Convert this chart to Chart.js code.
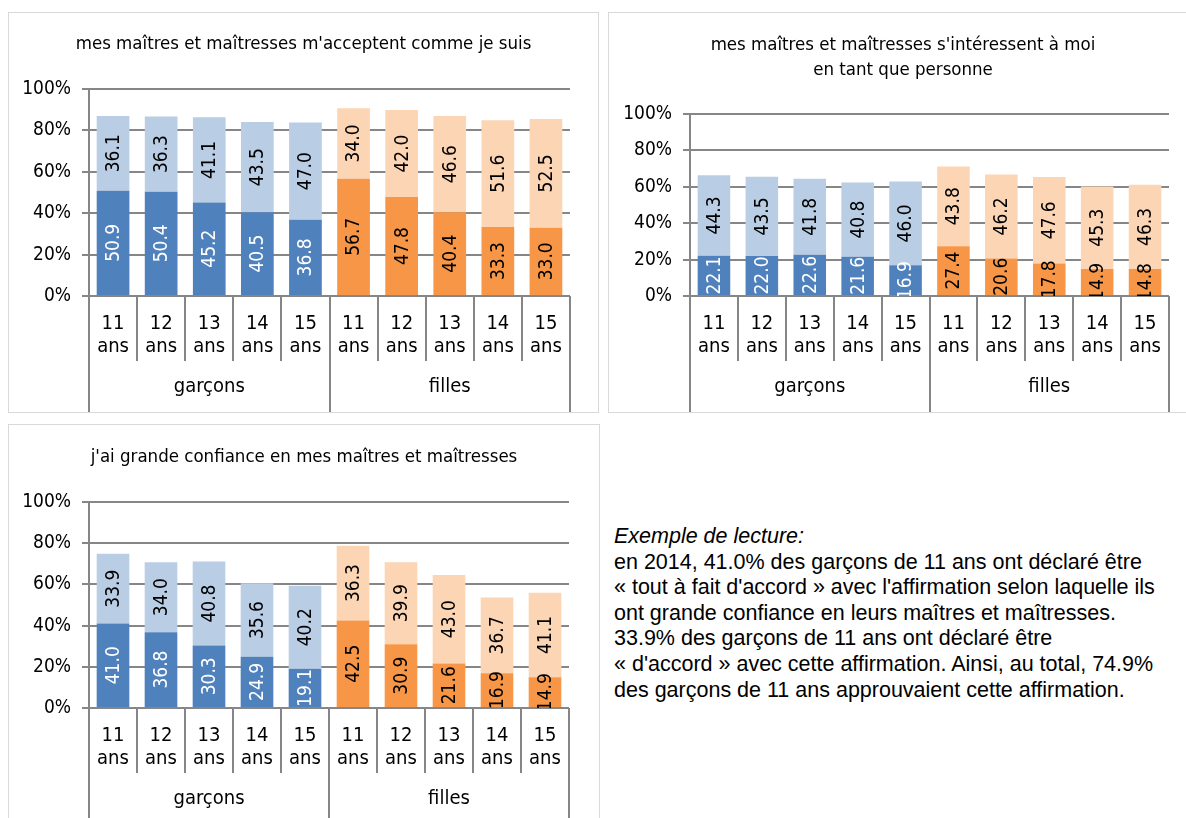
<!DOCTYPE html>
<html><head><meta charset="utf-8">
<script src="https://cdn.jsdelivr.net/npm/chart.js@4.4.1/dist/chart.umd.min.js"></script>
<style>
body{margin:0;background:#fff;width:1186px;height:818px;overflow:hidden;position:relative}
.panel{position:absolute;border:1px solid #d9d9d9;box-sizing:border-box;background:#fff;overflow:hidden}
canvas{display:block}
#note{position:absolute;left:614px;top:524px;font-family:'Liberation Sans',Arial,sans-serif;font-size:21.5px;line-height:25.6px;color:#000;white-space:nowrap}
</style></head><body>
<div class="panel" style="left:8px;top:12px;width:591px;height:401px"><canvas id="c1" width="589" height="399"></canvas></div>
<div class="panel" style="left:608px;top:12px;width:600px;height:401px"><canvas id="c2" width="588" height="399"></canvas></div>
<div class="panel" style="left:8px;top:424px;width:592px;height:410px"><canvas id="c3" width="590" height="393"></canvas></div>
<div id="note"><i>Exemple de lecture:</i><br>en 2014, 41.0% des garçons de 11 ans ont déclaré être<br>« tout à fait d'accord » avec l'affirmation selon laquelle ils<br>ont grande confiance en leurs maîtres et maîtresses.<br>33.9% des garçons de 11 ans ont déclaré être<br>« d'accord » avec cette affirmation. Ainsi, au total, 74.9%<br>des garçons de 11 ans approuvaient cette affirmation.</div>
<script>
// ---- data ----
const ages = ["11", "12", "13", "14", "15"];
const groups = ["garçons", "filles"];
const yTicks = [0, 20, 40, 60, 80, 100];

const title1 = "mes maîtres et maîtresses m'acceptent comme je suis";
const boysFull1 = [50.9, 50.4, 45.2, 40.5, 36.8];
const boysAgree1 = [36.1, 36.3, 41.1, 43.5, 47.0];
const girlsFull1 = [56.7, 47.8, 40.4, 33.3, 33.0];
const girlsAgree1 = [34.0, 42.0, 46.6, 51.6, 52.5];

const title2 = ["mes maîtres et maîtresses s'intéressent à moi", "en tant que personne"];
const boysFull2 = [22.1, 22.0, 22.6, 21.6, 16.9];
const boysAgree2 = [44.3, 43.5, 41.8, 40.8, 46.0];
const girlsFull2 = [27.4, 20.6, 17.8, 14.9, 14.8];
const girlsAgree2 = [43.8, 46.2, 47.6, 45.3, 46.3];

const title3 = "j'ai grande confiance en mes maîtres et maîtresses";
const boysFull3 = [41.0, 36.8, 30.3, 24.9, 19.1];
const boysAgree3 = [33.9, 34.0, 40.8, 35.6, 40.2];
const girlsFull3 = [42.5, 30.9, 21.6, 16.9, 14.9];
const girlsAgree3 = [36.3, 39.9, 43.0, 36.7, 41.1];

// ---- styles ----
const FONT = "'Liberation Sans Narrow','Arial Narrow','DejaVu Sans Condensed',sans-serif";
const GRID = '#868686';
const C_BLUE = '#4F81BD', C_LBLUE = '#B9CDE5', C_ORANGE = '#F79646', C_LORANGE = '#FCD5B5';
Chart.defaults.font.family = FONT;
Chart.defaults.color = '#000';

const labels = groups.flatMap(g => ages.map(a => g + ' ' + a));

const xAxisPlugin = {
  id: 'xaxis',
  afterDraw(chart) {
    const ctx = chart.ctx, ca = chart.chartArea, xs = chart.scales.x;
    const n = chart.data.labels.length, w = (ca.right - ca.left) / n;
    ctx.save();
    ctx.strokeStyle = GRID; ctx.lineWidth = 2;
    for (let k = 0; k <= n; k++) {
      const x = Math.round(ca.left + k * w);
      const isGroup = (k % ages.length === 0);
      ctx.beginPath();
      ctx.moveTo(x, ca.bottom);
      ctx.lineTo(x, isGroup ? chart.height : ca.bottom + 65);
      ctx.stroke();
    }
    ctx.fillStyle = '#000';
    ctx.textAlign = 'center'; ctx.textBaseline = 'middle';
    ctx.font = '20px ' + FONT;
    for (let i = 0; i < n; i++) {
      const x = xs.getPixelForValue(i);
      ctx.fillText(ages[i % ages.length], x, ca.bottom + 28);
      ctx.fillText('ans', x, ca.bottom + 51);
    }
    groups.forEach((g, gi) => {
      const x = (xs.getPixelForValue(gi * ages.length) + xs.getPixelForValue(gi * ages.length + ages.length - 1)) / 2;
      ctx.fillText(g, x, ca.bottom + 91);
    });
    ctx.restore();
  },
  afterDatasetsDraw(chart) {
    const ctx = chart.ctx, ca = chart.chartArea;
    ctx.save();
    ctx.beginPath(); ctx.rect(ca.left, ca.top, ca.right - ca.left, ca.bottom - ca.top); ctx.clip();
    ctx.font = '19px ' + FONT;
    ctx.textAlign = 'center'; ctx.textBaseline = 'middle';
    chart.data.datasets.forEach((ds, di) => {
      const meta = chart.getDatasetMeta(di);
      meta.data.forEach((bar, i) => {
        const v = ds.data[i];
        const cy = (bar.y + bar.base) / 2;
        ctx.fillStyle = (di === 0 && i < ages.length) ? '#fff' : '#000';
        ctx.save();
        ctx.translate(bar.x, cy);
        ctx.rotate(-Math.PI / 2);
        ctx.fillText(v.toFixed(1), 0, 1);
        ctx.restore();
      });
    });
    ctx.restore();
  }
};

function makeChart(id, title, full, agree, cfg) {
  const colorsFull = ages.map(() => C_BLUE).concat(ages.map(() => C_ORANGE));
  const colorsAgree = ages.map(() => C_LBLUE).concat(ages.map(() => C_LORANGE));
  new Chart(document.getElementById(id), {
    type: 'bar',
    data: {
      labels: labels,
      datasets: [
        { label: "tout à fait d'accord", data: full, backgroundColor: colorsFull, borderWidth: 0 },
        { label: "d'accord", data: agree, backgroundColor: colorsAgree, borderWidth: 0 }
      ]
    },
    options: {
      responsive: false, animation: false, devicePixelRatio: 1,
      layout: { padding: 0 },
      datasets: { bar: { categoryPercentage: 1, barPercentage: 0.68 } },
      plugins: {
        legend: { display: false }, tooltip: { enabled: false },
        title: {
          display: true, text: title, color: '#000',
          font: { size: 18.5, weight: 'normal', family: FONT, lineHeight: cfg.lh },
          padding: { top: cfg.tTop, bottom: cfg.tBottom }
        }
      },
      scales: {
        x: {
          stacked: true,
          ticks: { display: false },
          grid: { display: false },
          border: { display: false },
          afterFit: s => { s.height = cfg.xh; }
        },
        y: {
          stacked: true, min: 0, max: 100,
          afterBuildTicks: s => { s.ticks = yTicks.map(v => ({ value: v })); },
          ticks: { callback: v => v + '%', font: { size: 19, family: FONT }, color: '#000', padding: 11 },
          grid: { color: GRID, lineWidth: 2, tickLength: 7, drawTicks: true },
          border: { display: true, color: GRID, width: 2 },
          afterFit: s => { s.width = cfg.yw; }
        },
        yRightSpace: {
          position: 'right', display: true, min: 0, max: 1,
          ticks: { display: false }, grid: { display: false }, border: { display: false },
          afterFit: s => { s.width = cfg.right; }
        }
      }
    },
    plugins: [xAxisPlugin]
  });
}

makeChart('c1', title1, boysFull1.concat(girlsFull1), boysAgree1.concat(girlsAgree1),
  { right: 28, lh: 1.2, tTop: 20, tBottom: 33.8, xh: 116, yw: 80 });
makeChart('c2', title2, boysFull2.concat(girlsFull2), boysAgree2.concat(girlsAgree2),
  { right: 28, lh: 1.37, tTop: 19.5, tBottom: 30.8, xh: 116, yw: 81 });
makeChart('c3', title3, boysFull3.concat(girlsFull3), boysAgree3.concat(girlsAgree3),
  { right: 30, lh: 1.2, tTop: 21, tBottom: 33.8, xh: 110, yw: 80 });
</script>
</body></html>
